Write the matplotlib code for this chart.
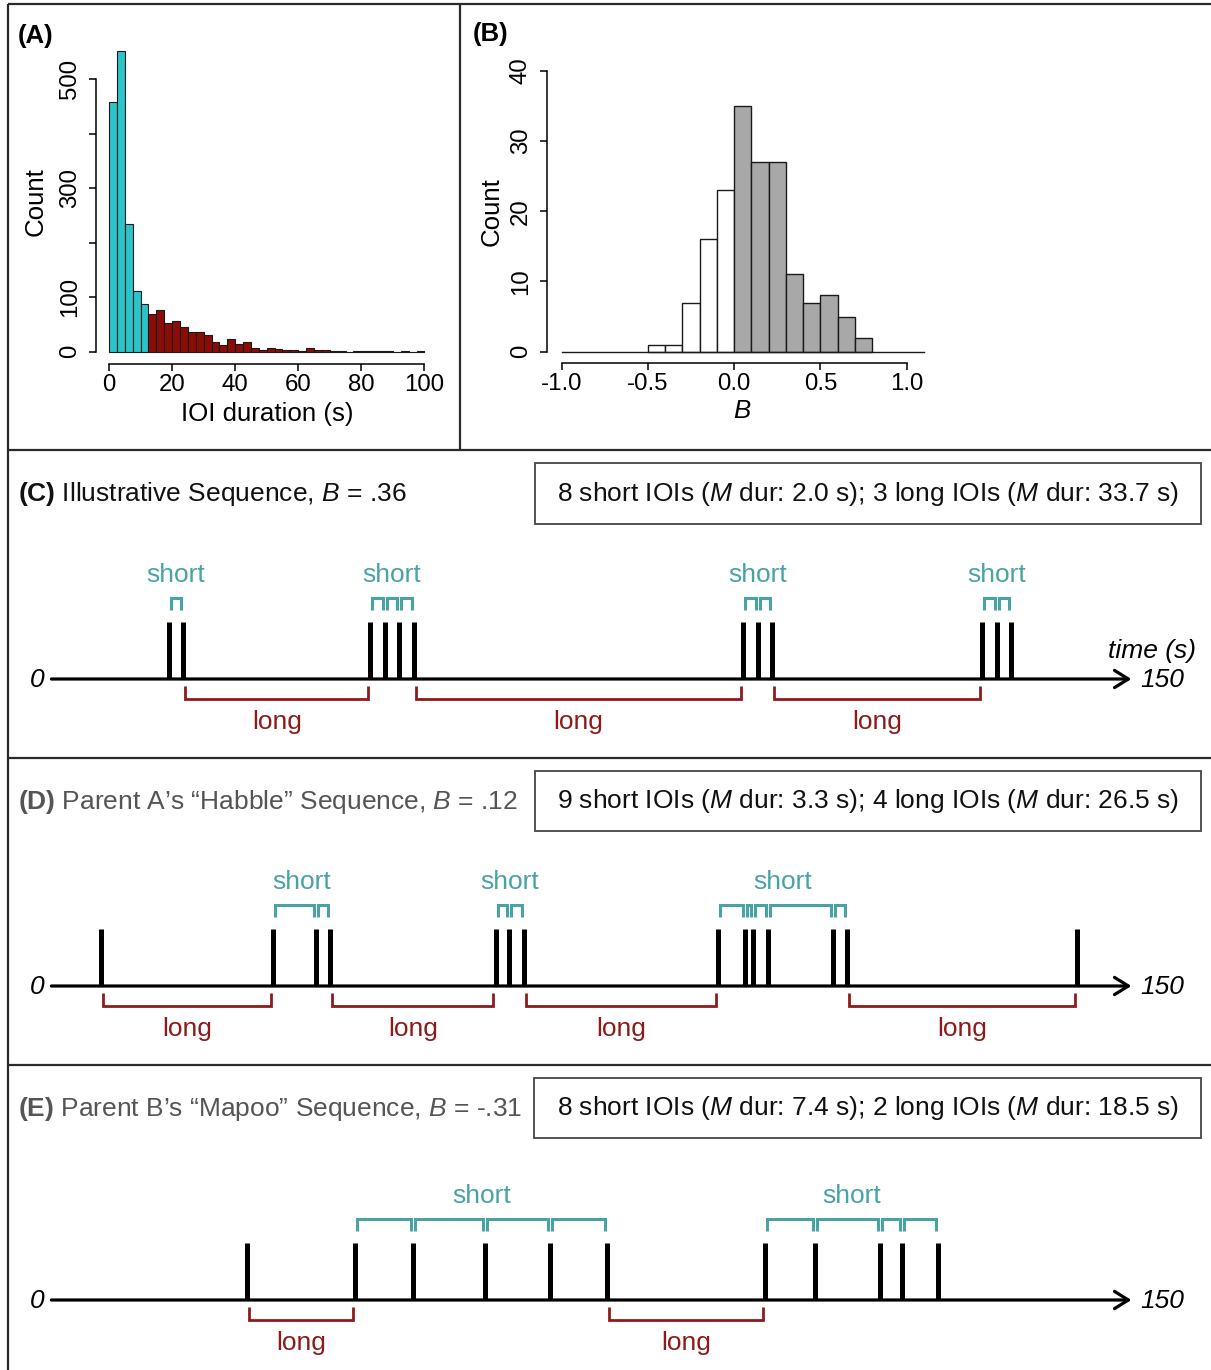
import numpy as np
import matplotlib
matplotlib.use('Agg')
import matplotlib.pyplot as plt
from matplotlib.patches import Rectangle
from matplotlib.lines import Line2D

plt.rcParams['font.family'] = ['Liberation Sans', 'DejaVu Sans']
plt.rcParams['mathtext.fontset'] = 'custom'
plt.rcParams['mathtext.rm'] = 'Liberation Sans'
plt.rcParams['mathtext.it'] = 'Liberation Sans:italic'
plt.rcParams['mathtext.bf'] = 'Liberation Sans:bold'

# ---------------- data ----------------
ioi_bin_width = 2.5
ioi_counts = [458, 551, 235, 112, 87, 69, 77, 53, 56, 46, 36, 36, 30, 18, 12, 23,
              15, 17, 6, 4, 6, 5, 4, 3, 2, 6, 3, 3, 1, 1, 0, 2, 1, 1, 2, 1, 0, 1, 0, 1]
ioi_threshold = 12.5
ioi_xticks = [0, 20, 40, 60, 80, 100]
ioi_yticks = [0, 100, 200, 300, 400, 500]
ioi_yticklabels = ['0', '100', '', '300', '', '500']

b_start = -1.0
b_bin_width = 0.1
b_counts = [0, 0, 0, 0, 0, 1, 1, 7, 16, 23, 35, 27, 27, 11, 7, 8, 5, 2, 0, 0, 0]
b_xticks = [-1.0, -0.5, 0.0, 0.5, 1.0]
b_xticklabels = ['-1.0', '-0.5', '0.0', '0.5', '1.0']
b_yticks = [0, 10, 20, 30, 40]

seq_c_times = [16.3, 18.3, 44.3, 46.3, 48.3, 50.3, 96.1, 98.1, 100.1, 129.3, 131.3, 133.3]
seq_d_times = [6.9, 30.8, 36.8, 38.7, 61.7, 63.6, 65.6, 92.6, 96.4, 97.5, 99.5, 108.5, 110.5, 142.5]
seq_e_times = [27.1, 42.2, 50.2, 60.2, 69.2, 77.2, 99.1, 106.1, 115.1, 118.1, 123.1]
seq_max_time = 150

title_c = r'$\mathbf{(C)}$ Illustrative Sequence, $B$ = .36'
title_d = r'$\mathbf{(D)}$ Parent A’s “Habble” Sequence, $B$ = .12'
title_e = r'$\mathbf{(E)}$ Parent B’s “Mapoo” Sequence, $B$ = -.31'
summary_c = r'8 short IOIs ($M$ dur: 2.0 s); 3 long IOIs ($M$ dur: 33.7 s)'
summary_d = r'9 short IOIs ($M$ dur: 3.3 s); 4 long IOIs ($M$ dur: 26.5 s)'
summary_e = r'8 short IOIs ($M$ dur: 7.4 s); 2 long IOIs ($M$ dur: 18.5 s)'

# ---------------- style ----------------
CYAN = '#2cc3c9'
DARKRED = '#8b0d0a'
GREY = '#a8a8a8'
TEAL = '#49a3a3'
LONGRED = '#8e1b1b'
FS = 19
TICKFS = 17.3

W, H = 1211, 1370
fig = plt.figure(figsize=(W / 100, H / 100), dpi=100)


def rect(l, t, r, b):
    return [l / W, 1 - b / H, (r - l) / W, (b - t) / H]


def fx(x):
    return x / W


def fy(y):
    return 1 - y / H


def fig_line(x1, y1, x2, y2, lw=1.6, color='#2a2a2a'):
    fig.add_artist(Line2D([fx(x1), fx(x2)], [fy(y1), fy(y2)], transform=fig.transFigure,
                          color=color, lw=lw, solid_capstyle='butt'))


def r_style(ax, xb, yb):
    for s in ['top', 'right']:
        ax.spines[s].set_visible(False)
    for s in ['left', 'bottom']:
        ax.spines[s].set_linewidth(1.1)
    ax.spines['bottom'].set_bounds(*xb)
    ax.spines['left'].set_bounds(*yb)
    ax.tick_params(direction='out', length=5, width=1.1, labelsize=TICKFS, colors='black')
    ax.tick_params(axis='x', pad=2.5)
    ax.tick_params(axis='y', pad=6)
    ax.patch.set_visible(False)


# ---------------- panel A ----------------
axA = fig.add_axes(rect(96.4, 39.2, 437, 363.7))
edgesA = np.arange(len(ioi_counts)) * ioi_bin_width
colsA = [CYAN if e < ioi_threshold else DARKRED for e in edgesA]
axA.bar(edgesA, ioi_counts, width=ioi_bin_width, align='edge', color=colsA,
        edgecolor='#1a1a1a', linewidth=0.8)
axA.set_xlim(-4, 104)
axA.set_ylim(-22.04, 573.04)
r_style(axA, (0, 100), (0, 500))
axA.set_xticks(ioi_xticks)
axA.set_xticklabels([str(v) for v in ioi_xticks])
axA.set_yticks(ioi_yticks)
axA.set_yticklabels(ioi_yticklabels, rotation=90, va='center')
fig.text(fx(36), fy(202), 'Count', rotation=90, ha='center', va='center', fontsize=18.6)
fig.text(fx(267), fy(414), 'IOI duration (s)', ha='center', va='center', fontsize=18.6)
fig.text(fx(18), fy(36), '(A)', fontweight='bold', ha='left', va='center', fontsize=18.5)

# ---------------- panel B ----------------
axB = fig.add_axes(rect(547.2, 59.5, 938.4, 362.9))
edgesB = b_start + np.arange(len(b_counts)) * b_bin_width
colsB = ['white' if e < -1e-9 else GREY for e in edgesB]
nz = [i for i, c in enumerate(b_counts) if c > 0]
axB.bar(edgesB[nz], np.array(b_counts)[nz], width=b_bin_width, align='edge',
        color=[colsB[i] for i in nz], edgecolor='#1a1a1a', linewidth=1.0)
axB.plot([edgesB[0], edgesB[-1] + b_bin_width], [0, 0], color='#1a1a1a', lw=1.0)
axB.set_xlim(-1.084, 1.184)
axB.set_ylim(-1.6, 41.6)
r_style(axB, (-1.0, 1.0), (0, 40))
axB.set_xticks(b_xticks)
axB.set_xticklabels(b_xticklabels)
axB.set_yticks(b_yticks)
axB.set_yticklabels([str(v) for v in b_yticks], rotation=90, va='center')
fig.text(fx(492), fy(212), 'Count', rotation=90, ha='center', va='center', fontsize=18.6)
fig.text(fx(742), fy(411), 'B', style='italic', ha='center', va='center', fontsize=18.6)
fig.text(fx(473), fy(34), '(B)', fontweight='bold', ha='left', va='center', fontsize=18.5)

# ---------------- sequence panels ----------------
PX0 = 51.4     # pixel of time 0
PXS = 7.2      # pixels per second
t_left = (8 - PX0) / PXS
t_right = (W - PX0) / PXS


def draw_seq(top, bottom, axis_y, times, title, title_color, summary, box, show_time_label):
    ax = fig.add_axes(rect(8, top, W, bottom))
    ax.set_xlim(t_left, t_right)
    ax.set_ylim(-(bottom - axis_y), axis_y - top)
    ax.axis('off')
    times = np.asarray(times)
    iois = np.diff(times)
    is_short = iois < ioi_threshold

    # axis with arrow
    ax.annotate('', xy=(seq_max_time, 0), xytext=(0, 0),
                arrowprops=dict(arrowstyle='->,head_length=1.0,head_width=0.62',
                                lw=2.3, color='black', shrinkA=0, shrinkB=0,
                                mutation_scale=10))
    ax.text(-0.9, -1.5, '0', style='italic', ha='right', va='center', fontsize=FS)
    ax.text(seq_max_time + 1.2, -1.5, '150', style='italic', ha='left', va='center', fontsize=FS)
    if show_time_label:
        ax.text(seq_max_time + 2.8, 28, 'time (s)', style='italic', ha='center',
                va='center', fontsize=FS)

    # events
    ax.vlines(times, 0, 57, color='black', lw=3.6, capstyle='butt')

    # brackets
    for i, (a, b) in enumerate(zip(times[:-1], times[1:])):
        if is_short[i]:
            ins = 0.28
            ax.plot([a + ins, a + ins, b - ins, b - ins], [69, 81, 81, 69], color=TEAL,
                    lw=2.2, solid_joinstyle='miter', solid_capstyle='butt')
        else:
            ins = 0.3
            ax.plot([a + ins, a + ins, b - ins, b - ins], [-7, -20, -20, -7], color=LONGRED,
                    lw=2.0, solid_joinstyle='miter', solid_capstyle='butt')
            ax.text((a + b) / 2, -43, 'long', color=LONGRED, ha='center', va='center',
                    fontsize=FS)
    # short group labels
    i = 0
    n = len(iois)
    while i < n:
        if is_short[i]:
            j = i
            while j + 1 < n and is_short[j + 1]:
                j += 1
            ax.text((times[i] + times[j + 1]) / 2, 104, 'short', color=TEAL, ha='center',
                    va='center', fontsize=FS)
            i = j + 1
        else:
            i += 1

    # title and summary box
    fig.text(fx(18), fy((box[1] + box[3]) / 2 + 1), title, ha='left', va='center',
             fontsize=FS, color=title_color)
    fig.add_artist(Rectangle((fx(box[0]), fy(box[3])), (box[2] - box[0]) / W,
                             (box[3] - box[1]) / H, transform=fig.transFigure,
                             fill=False, edgecolor='#444444', lw=1.3))
    fig.text(fx((box[0] + box[2]) / 2), fy((box[1] + box[3]) / 2), summary,
             ha='center', va='center', fontsize=FS, color='#111111')


draw_seq(452, 758, 679, seq_c_times, title_c, '#111111', summary_c,
         (535, 463, 1201, 524), True)
draw_seq(760, 1065, 986, seq_d_times, title_d, '#555555', summary_d,
         (535, 771, 1201, 831), False)
draw_seq(1067, 1370, 1300, seq_e_times, title_e, '#555555', summary_e,
         (534, 1078, 1201, 1138), False)

# ---------------- frame lines ----------------
fig_line(8, 4, W, 4)
fig_line(8, 4, 8, H)
fig_line(460, 4, 460, 450)
fig_line(8, 450, W, 450)
fig_line(8, 758, W, 758)
fig_line(8, 1065, W, 1065)

fig.savefig('out.png', dpi=100)
